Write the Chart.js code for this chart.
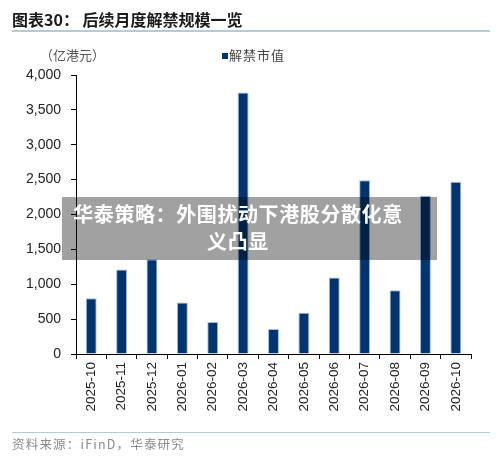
<!DOCTYPE html>
<html>
<head>
<meta charset="utf-8">
<script src="https://cdn.jsdelivr.net/npm/chart.js@4"></script>
<style>
html,body{margin:0;padding:0;background:#fff;}
#wrap{position:relative;width:500px;height:458px;overflow:hidden;background:#fff;}
#c{position:absolute;left:0;top:0;}
.t{position:absolute;white-space:nowrap;}
#title{left:12px;top:9px;font:bold 16px "Noto Sans CJK SC";color:#1a1a1a;line-height:20px;}
#tline{position:absolute;left:12px;top:30px;width:478px;height:2px;background:#b9c8d6;}
#unit{left:40px;top:46px;font:13px "Noto Sans CJK SC";color:#555;line-height:18px;}
#leg{left:222px;top:46px;font:13px "Noto Sans CJK SC";color:#444;line-height:18px;letter-spacing:1px;}
#leg span{display:inline-block;width:6px;height:6px;background:#02356f;margin-right:1px;vertical-align:1px;}
#bline{position:absolute;left:12px;top:432px;width:478px;height:1px;background:#b9c8d6;}
#src{left:12px;top:435px;font:12.5px "Noto Sans CJK SC";color:#8a8a8a;line-height:18px;letter-spacing:1.2px;}
#ov{position:absolute;left:62px;top:197px;width:375px;height:63px;background:rgba(0,0,0,0.37);}
#ovt{position:absolute;left:62px;top:201px;width:352px;text-align:center;font:bold 20px "Noto Sans CJK SC";color:#fff;line-height:26.5px;letter-spacing:0.6px;}
</style>
</head>
<body>
<div id="wrap">
<canvas id="c" width="500" height="458"></canvas>
<div class="t" id="title">图表30： 后续月度解禁规模一览</div>
<div id="tline"></div>
<div class="t" id="unit">（亿港元）</div>
<div class="t" id="leg"><span></span>解禁市值</div>
<div id="bline"></div>
<div class="t" id="src">资料来源：iFinD，华泰研究</div>
<div id="ov"></div>
<div class="t" id="ovt">华泰策略：外围扰动下港股分散化意<br>义凸显</div>
</div>
<script>
const categories = ["2025-10","2025-11","2025-12","2026-01","2026-02","2026-03","2026-04","2026-05","2026-06","2026-07","2026-08","2026-09","2026-10"];
const unlockValues = [800, 1210, 1360, 740, 460, 3750, 360, 590, 1095, 2490, 915, 2270, 2470];
const seriesName = "解禁市值";
const yMin = 0, yMax = 4000, yStep = 500;

new Chart(document.getElementById('c'), {
  type: 'bar',
  data: {
    labels: categories,
    datasets: [{
      label: seriesName,
      data: unlockValues,
      backgroundColor: '#02356f',
      borderColor: 'rgba(150,185,225,0.9)',
      borderWidth: {left:1,right:1,top:1,bottom:0},
      barPercentage: 0.36,
      categoryPercentage: 1.0
    }]
  },
  options: {
    responsive: false,
    animation: false,
    devicePixelRatio: 1,
    layout: { padding: { left: 0, right: 29, top: 75, bottom: 0 } },
    plugins: { legend: { display: false }, tooltip: { enabled: false } },
    scales: {
      x: {
        offset: true,
        grid: { display: true, drawOnChartArea: false, drawTicks: true, tickLength: 5, color: '#000', offset: true },
        border: { display: true, color: '#000', width: 1 },
        ticks: { maxRotation: 90, minRotation: 90, padding: 3, color: '#222', font: { family: 'Liberation Sans', size: 13.5 } },
        afterFit: s => { s.height = 104; }
      },
      y: {
        min: yMin, max: yMax,
        grid: { display: true, drawOnChartArea: false, drawTicks: true, tickLength: 5, color: '#000' },
        border: { display: true, color: '#000', width: 1 },
        ticks: { stepSize: yStep, padding: 10, color: '#222', font: { family: 'Liberation Sans', size: 14 },
          callback: v => v.toLocaleString('en-US') },
        afterFit: s => { s.width = 76; }
      }
    }
  }
});
</script>
</body>
</html>
